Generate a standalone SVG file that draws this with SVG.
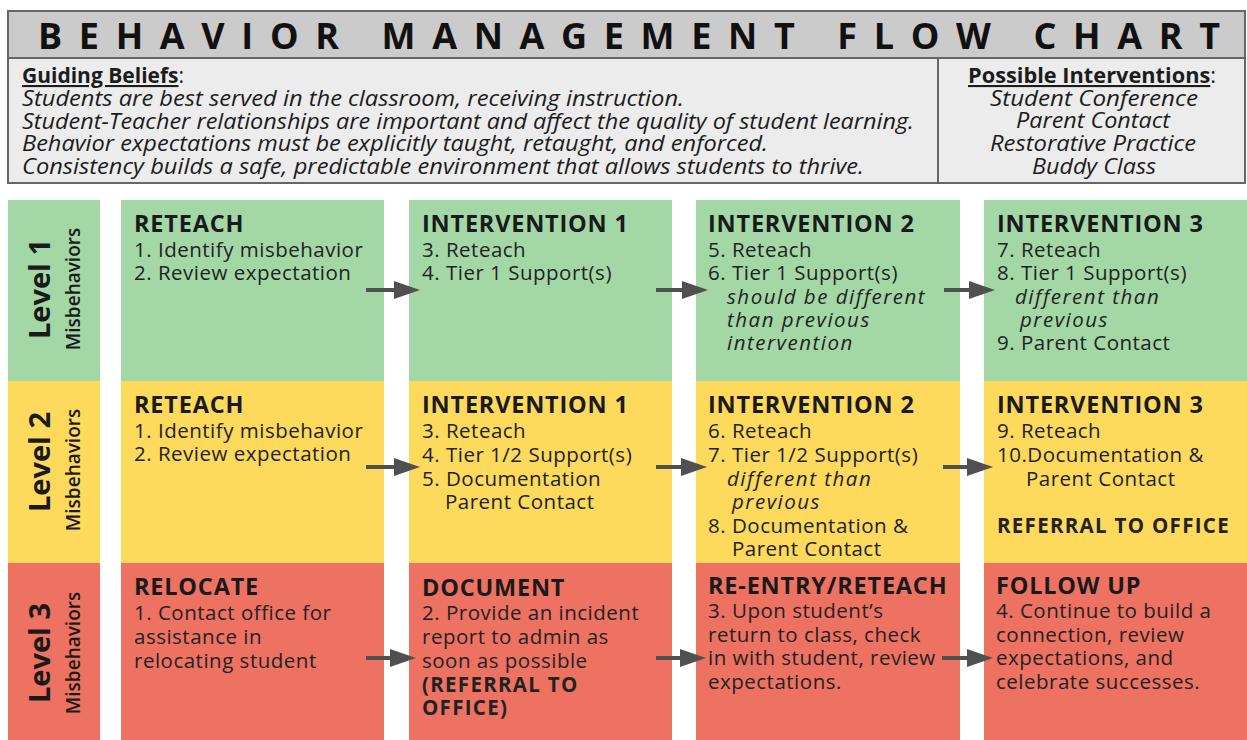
<svg xmlns="http://www.w3.org/2000/svg" width="1247" height="740" viewBox="0 0 1247 740">
<style>
.title{font-family:"Open Sans","Liberation Sans",sans-serif;font-weight:bold;font-size:36px;fill:#111}
.hd{font-family:"Open Sans","Liberation Sans",sans-serif;font-size:21px;fill:#1c1c1c}
.u{font-weight:bold;text-decoration:underline}
.it{font-style:italic}
.h{font-family:"Open Sans","Liberation Sans",sans-serif;font-weight:bold;font-size:23.5px;letter-spacing:0.8px;fill:#1a1a1a}
.b{font-family:"Open Sans","Liberation Sans",sans-serif;font-weight:500;font-size:20.5px;letter-spacing:0.5px;fill:#222}
.b.it{letter-spacing:1.5px}
.bb{font-weight:bold;letter-spacing:1.3px}
.lv{font-family:"Open Sans","Liberation Sans",sans-serif;font-weight:bold;font-size:29px;fill:#1a1a1a}
.ms{font-family:"Open Sans","Liberation Sans",sans-serif;font-weight:600;font-size:19px;fill:#1a1a1a}
.g{fill:#a3d8a6}
.y{fill:#fdd95c}
.r{fill:#ed7262}
.arr{stroke:#505050;stroke-width:4;fill:none}
</style>
<defs>
<marker id="ah" markerUnits="userSpaceOnUse" markerWidth="28" markerHeight="20" refX="14" refY="9" orient="auto">
<path d="M0,0 L26,9 L0,18 Z" fill="#505050"/>
</marker>
</defs>
<rect width="1247" height="740" fill="#fff"/>
<g id="header">
<rect x="8" y="11" width="1237" height="172" fill="#ececec" stroke="#666" stroke-width="2"/>
<rect x="8" y="11" width="1237" height="47" fill="#cbcbcb" stroke="#666" stroke-width="2"/>
<line x1="938" y1="58" x2="938" y2="183" stroke="#666" stroke-width="2"/>
<text class="title" x="38" y="49" textLength="1182" lengthAdjust="spacing">BEHAVIOR MANAGEMENT FLOW CHART</text>
<text class="hd" x="22" y="83"><tspan class="u">Guiding Beliefs</tspan>:</text>
<text class="hd it" x="22" y="106" textLength="662" lengthAdjust="spacingAndGlyphs">Students are best served in the classroom, receiving instruction.</text>
<text class="hd it" x="22" y="129" textLength="892" lengthAdjust="spacingAndGlyphs">Student-Teacher relationships are important and affect the quality of student learning.</text>
<text class="hd it" x="22" y="151" textLength="746" lengthAdjust="spacingAndGlyphs">Behavior expectations must be explicitly taught, retaught, and enforced.</text>
<text class="hd it" x="22" y="174" textLength="842" lengthAdjust="spacingAndGlyphs">Consistency builds a safe, predictable environment that allows students to thrive.</text>
<text class="hd" x="1092" y="83" text-anchor="middle" textLength="248" lengthAdjust="spacingAndGlyphs"><tspan class="u">Possible Interventions</tspan>:</text>
<text class="hd it" x="990" y="106" textLength="208" lengthAdjust="spacingAndGlyphs">Student Conference</text>
<text class="hd it" x="1016" y="128" textLength="154" lengthAdjust="spacingAndGlyphs">Parent Contact</text>
<text class="hd it" x="990" y="151" textLength="206" lengthAdjust="spacingAndGlyphs">Restorative Practice</text>
<text class="hd it" x="1032" y="174" textLength="124" lengthAdjust="spacingAndGlyphs">Buddy Class</text>
</g>
<g id="level1">
<rect class="g" x="8" y="200" width="92" height="181"/>
<text class="lv" transform="translate(50,289) rotate(-90)" text-anchor="middle">Level 1</text>
<text class="ms" transform="translate(80,289) rotate(-90)" text-anchor="middle">Misbehaviors</text>
</g>
<g id="level2">
<rect class="y" x="8" y="381" width="92" height="182"/>
<text class="lv" transform="translate(50,462) rotate(-90)" text-anchor="middle">Level 2</text>
<text class="ms" transform="translate(80,470) rotate(-90)" text-anchor="middle">Misbehaviors</text>
</g>
<g id="level3">
<rect class="r" x="8" y="563" width="92" height="177"/>
<text class="lv" transform="translate(50,653) rotate(-90)" text-anchor="middle">Level 3</text>
<text class="ms" transform="translate(80,653) rotate(-90)" text-anchor="middle">Misbehaviors</text>
</g>
<g id="l1-reteach">
<rect class="g" x="121" y="200" width="263" height="181"/>
<text class="h" x="134" y="232">RETEACH</text>
<text class="b"><tspan x="134" y="257">1. Identify misbehavior</tspan><tspan x="134" y="280">2. Review expectation</tspan></text>
</g>
<g id="l1-int1">
<rect class="g" x="409" y="200" width="263" height="181"/>
<text class="h" x="422" y="232">INTERVENTION 1</text>
<text class="b"><tspan x="422" y="257">3. Reteach</tspan><tspan x="422" y="280">4. Tier 1 Support(s)</tspan></text>
</g>
<g id="l1-int2">
<rect class="g" x="696" y="200" width="264" height="181"/>
<text class="h" x="708" y="232">INTERVENTION 2</text>
<text class="b"><tspan x="708" y="257">5. Reteach</tspan><tspan x="708" y="280">6. Tier 1 Support(s)</tspan></text>
<text class="b it"><tspan x="727" y="304">should be different</tspan><tspan x="727" y="327">than previous</tspan><tspan x="727" y="350">intervention</tspan></text>
</g>
<g id="l1-int3">
<rect class="g" x="984" y="200" width="263" height="181"/>
<text class="h" x="997" y="232">INTERVENTION 3</text>
<text class="b"><tspan x="997" y="257">7. Reteach</tspan><tspan x="997" y="280">8. Tier 1 Support(s)</tspan></text>
<text class="b it"><tspan x="1015" y="304">different than</tspan><tspan x="1020" y="327">previous</tspan></text>
<text class="b" x="997" y="350">9. Parent Contact</text>
</g>
<g id="l2-reteach">
<rect class="y" x="121" y="381" width="263" height="182"/>
<text class="h" x="134" y="413">RETEACH</text>
<text class="b"><tspan x="134" y="438">1. Identify misbehavior</tspan><tspan x="134" y="461">2. Review expectation</tspan></text>
</g>
<g id="l2-int1">
<rect class="y" x="409" y="381" width="263" height="182"/>
<text class="h" x="422" y="413">INTERVENTION 1</text>
<text class="b"><tspan x="422" y="438">3. Reteach</tspan><tspan x="422" y="462">4. Tier 1/2 Support(s)</tspan><tspan x="422" y="486">5. Documentation</tspan><tspan x="445" y="509">Parent Contact</tspan></text>
</g>
<g id="l2-int2">
<rect class="y" x="696" y="381" width="264" height="182"/>
<text class="h" x="708" y="413">INTERVENTION 2</text>
<text class="b"><tspan x="708" y="438">6. Reteach</tspan><tspan x="708" y="462">7. Tier 1/2 Support(s)</tspan></text>
<text class="b it"><tspan x="727" y="486">different than</tspan><tspan x="732" y="509">previous</tspan></text>
<text class="b"><tspan x="708" y="533">8. Documentation &amp;</tspan><tspan x="732" y="556">Parent Contact</tspan></text>
</g>
<g id="l2-int3">
<rect class="y" x="984" y="381" width="263" height="182"/>
<text class="h" x="997" y="413">INTERVENTION 3</text>
<text class="b"><tspan x="997" y="438">9. Reteach</tspan><tspan x="997" y="462">10.Documentation &amp;</tspan><tspan x="1026" y="486">Parent Contact</tspan></text>
<text class="b bb" x="997" y="533">REFERRAL TO OFFICE</text>
</g>
<g id="l3-relocate">
<rect class="r" x="121" y="563" width="263" height="177"/>
<text class="h" x="134" y="595">RELOCATE</text>
<text class="b"><tspan x="134" y="620">1. Contact office for</tspan><tspan x="134" y="644">assistance in</tspan><tspan x="134" y="668">relocating student</tspan></text>
</g>
<g id="l3-document">
<rect class="r" x="409" y="563" width="263" height="177"/>
<text class="h" x="422" y="596">DOCUMENT</text>
<text class="b"><tspan x="422" y="620">2. Provide an incident</tspan><tspan x="422" y="644">report to admin as</tspan><tspan x="422" y="668">soon as possible</tspan></text>
<text class="b bb"><tspan x="422" y="692">(REFERRAL TO</tspan><tspan x="422" y="715">OFFICE)</tspan></text>
</g>
<g id="l3-reentry">
<rect class="r" x="696" y="563" width="264" height="177"/>
<text class="h" x="708" y="594">RE-ENTRY/RETEACH</text>
<text class="b"><tspan x="708" y="618">3. Upon student’s</tspan><tspan x="708" y="642">return to class, check</tspan><tspan x="708" y="665">in with student, review</tspan><tspan x="708" y="689">expectations.</tspan></text>
</g>
<g id="l3-followup">
<rect class="r" x="984" y="563" width="263" height="177"/>
<text class="h" x="996" y="594">FOLLOW UP</text>
<text class="b"><tspan x="996" y="618">4. Continue to build a</tspan><tspan x="996" y="642">connection, review</tspan><tspan x="996" y="665">expectations, and</tspan><tspan x="996" y="689">celebrate successes.</tspan></text>
</g>
<g id="connectors">
<line class="arr" x1="366" y1="290" x2="408" y2="290" marker-end="url(#ah)"/>
<line class="arr" x1="656" y1="290" x2="696" y2="290" marker-end="url(#ah)"/>
<line class="arr" x1="944" y1="290" x2="983" y2="290" marker-end="url(#ah)"/>
<line class="arr" x1="366" y1="467" x2="408" y2="467" marker-end="url(#ah)"/>
<line class="arr" x1="656" y1="467" x2="695" y2="467" marker-end="url(#ah)"/>
<line class="arr" x1="943" y1="467" x2="981" y2="467" marker-end="url(#ah)"/>
<line class="arr" x1="366" y1="658" x2="404" y2="658" marker-end="url(#ah)"/>
<line class="arr" x1="656" y1="658" x2="694" y2="658" marker-end="url(#ah)"/>
<line class="arr" x1="942" y1="658" x2="981" y2="658" marker-end="url(#ah)"/>
</g>
</svg>
